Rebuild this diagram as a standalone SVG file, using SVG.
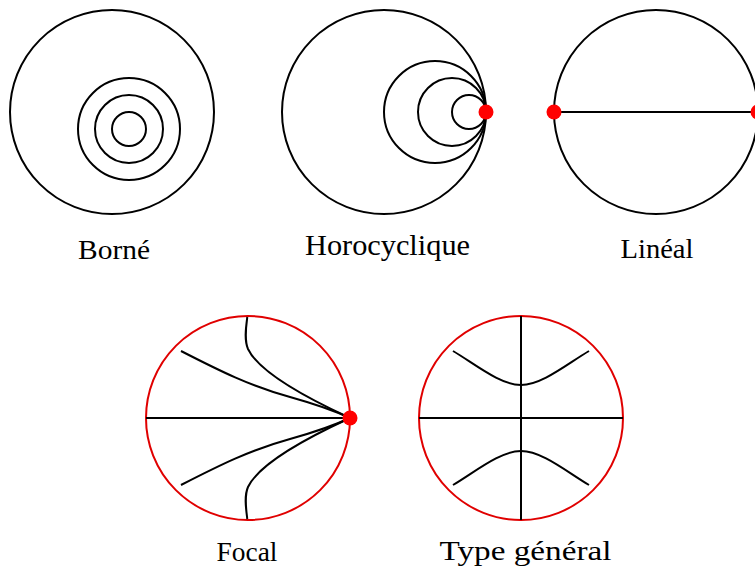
<svg xmlns="http://www.w3.org/2000/svg" width="755" height="567" viewBox="0 0 755 567">
<style>
.k{fill:none;stroke:#000;stroke-width:2}
.r{fill:none;stroke:#e00000;stroke-width:2}
.d{fill:#ff0000;stroke:none}
.t{font-family:"Liberation Serif","Times New Roman",serif;font-size:28px;fill:#000;text-anchor:middle}
</style>
<rect width="755" height="567" fill="#fff"/>
<g id="borne">
<circle class="k" cx="112" cy="112" r="102"/>
<circle class="k" cx="129" cy="129" r="51"/>
<circle class="k" cx="129" cy="129" r="34"/>
<circle class="k" cx="129" cy="129" r="17"/>
<text class="t" x="114" y="259" textLength="72" lengthAdjust="spacingAndGlyphs">Borné</text>
</g>
<g id="horocyclique">
<circle class="k" cx="384" cy="112" r="102"/>
<circle class="k" cx="435" cy="112" r="51"/>
<circle class="k" cx="452" cy="112" r="34"/>
<circle class="k" cx="469" cy="112" r="17"/>
<circle class="d" cx="486" cy="112" r="7.5"/>
<text class="t" x="387.5" y="255" style="font-size:30px" textLength="165" lengthAdjust="spacingAndGlyphs">Horocyclique</text>
</g>
<g id="lineal">
<circle class="k" cx="656" cy="112" r="102"/>
<line class="k" x1="554" y1="112" x2="758" y2="112"/>
<circle class="d" cx="554" cy="112" r="7.5"/>
<circle class="d" cx="758" cy="112" r="7.5"/>
<text class="t" x="657" y="258" textLength="73" lengthAdjust="spacingAndGlyphs">Linéal</text>
</g>
<g id="focal">
<circle class="r" cx="248" cy="418" r="102"/>
<g id="connectors-focal">
<line class="k" x1="146" y1="418" x2="350" y2="418"/>
<path class="k" d="M247.3,317 C246,327 244,340 248,349 C258,370 300,395 350,418"/>
<path class="k" d="M181,351 C220,371 250,386 290,397 C315,404 335,411 350,418"/>
<path class="k" d="M247.3,519 C246,509 244,496 248,487 C258,466 300,441 350,418"/>
<path class="k" d="M181,485 C220,465 250,450 290,439 C315,432 335,425 350,418"/>
</g>
<circle class="d" cx="350" cy="418" r="7.5"/>
<text class="t" x="247" y="561" textLength="61" lengthAdjust="spacingAndGlyphs">Focal</text>
</g>
<g id="general">
<circle class="r" cx="521" cy="418" r="102"/>
<g id="connectors-general">
<line class="k" x1="419" y1="418" x2="623" y2="418"/>
<line class="k" x1="521" y1="316" x2="521" y2="520"/>
<path class="k" d="M453,351 C475,364 500,385 521,385 C542,385 567,364 589,351"/>
<path class="k" d="M453,485 C475,472 500,451 521,451 C542,451 567,472 589,485"/>
</g>
<text class="t" x="525.5" y="560" textLength="172" lengthAdjust="spacingAndGlyphs">Type général</text>
</g>
</svg>
